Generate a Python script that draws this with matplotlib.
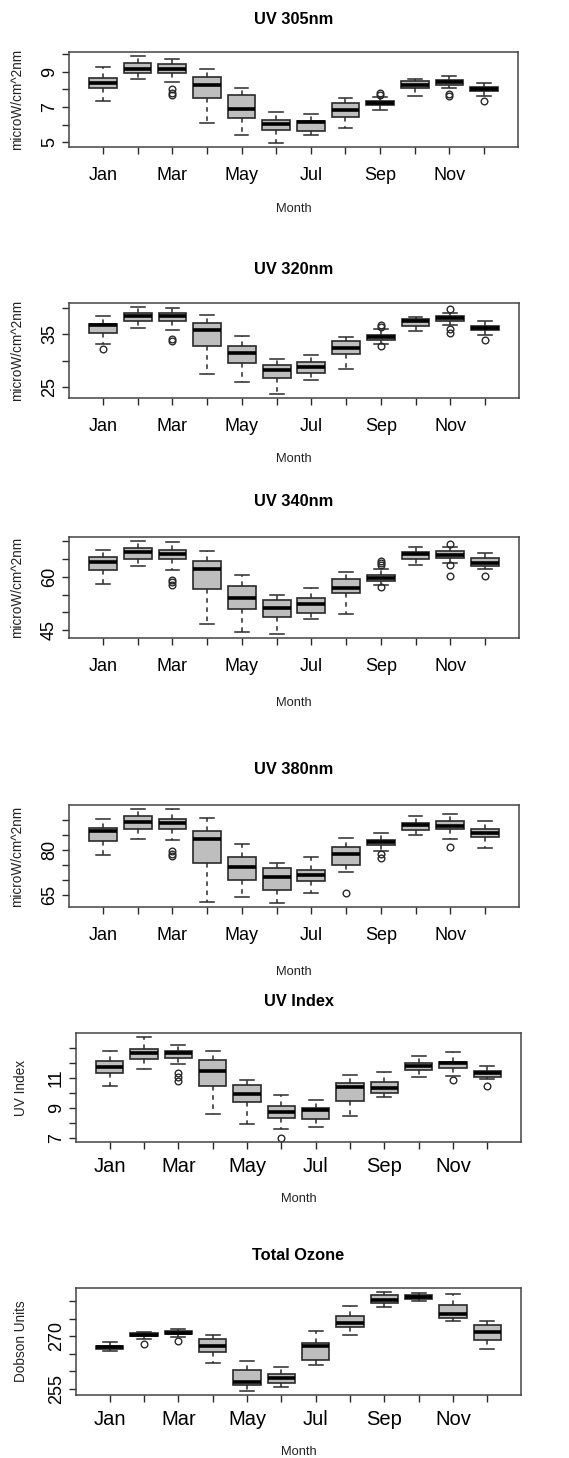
"""
plot.py
Monthly UV irradiance / UV index / total ozone box plots, six stacked panels
in the style of base-R boxplot(). Saves out.png.
"""
import matplotlib
matplotlib.use("Agg")
import matplotlib.pyplot as plt
import numpy as np

plt.rcParams["font.family"] = ["Liberation Sans", "DejaVu Sans"]

MONTHS       = ["Jan", "Feb", "Mar", "Apr", "May", "Jun",
                "Jul", "Aug", "Sep", "Oct", "Nov", "Dec"]
MONTH_LABELS = ["Jan", "", "Mar", "", "May", "", "Jul", "", "Sep", "", "Nov", ""]

# ---- UV 305nm (microW/cm^2nm)
UV305_LO  = [7.36, 8.57, 8.42, 6.09, 5.42, 4.94, 5.42, 5.79, 6.85, 7.64, 8.08, 7.64]
UV305_Q1  = [8.09, 8.94, 8.92, 7.49, 6.36, 5.70, 5.64, 6.45, 7.11, 8.06, 8.25, 7.89]
UV305_MED = [8.34, 9.17, 9.17, 8.23, 6.89, 6.06, 6.13, 6.81, 7.23, 8.26, 8.40, 8.00]
UV305_Q3  = [8.62, 9.47, 9.42, 8.72, 7.66, 6.26, 6.23, 7.25, 7.34, 8.45, 8.51, 8.11]
UV305_HI  = [9.25, 9.92, 9.75, 9.13, 8.09, 6.75, 6.60, 7.51, 7.55, 8.60, 8.74, 8.36]
UV305_OUT = [[], [], [8.00, 7.81, 7.68], [], [], [], [], [], [7.81, 7.70], [],
             [7.75, 7.62], [7.36]]

# ---- UV 320nm
UV320_LO  = [33.16, 36.20, 35.82, 27.41, 25.89, 23.61, 26.27, 28.48, 33.04, 35.63, 36.77, 34.81]
UV320_Q1  = [35.19, 37.53, 37.53, 32.66, 29.62, 26.77, 27.72, 31.27, 33.92, 36.58, 37.41, 35.70]
UV320_MED = [36.65, 38.35, 38.42, 35.76, 31.52, 28.23, 28.80, 32.34, 34.43, 37.53, 38.04, 36.20]
UV320_Q3  = [36.90, 39.05, 38.92, 37.03, 32.66, 29.11, 29.81, 33.67, 34.81, 37.85, 38.35, 36.58]
UV320_HI  = [38.48, 40.19, 40.00, 38.61, 34.62, 30.32, 31.08, 34.43, 35.95, 38.29, 38.92, 37.53]
UV320_OUT = [[32.15], [], [34.05, 33.67], [], [], [], [], [], [36.71, 36.39, 32.66], [],
             [39.81, 35.95, 35.19], [33.86]]

# ---- UV 340nm
UV340_LO  = [58.14, 62.98, 61.96, 46.86, 44.44, 43.88, 48.07, 49.66, 57.67, 63.45, 63.82, 62.24]
UV340_Q1  = [61.96, 65.13, 65.13, 56.64, 50.96, 48.82, 49.84, 55.43, 58.88, 64.94, 65.31, 63.17]
UV340_MED = [64.29, 67.08, 66.52, 62.33, 54.04, 51.33, 52.45, 57.02, 59.81, 66.34, 66.24, 64.01]
UV340_Q3  = [65.50, 68.20, 67.64, 64.57, 57.39, 53.48, 54.04, 59.53, 60.56, 67.08, 67.18, 65.31]
UV340_HI  = [67.55, 70.16, 69.88, 67.36, 60.56, 54.97, 56.74, 61.40, 62.14, 68.48, 68.29, 66.71]
UV340_OUT = [[], [], [59.16, 58.50, 57.86], [], [], [], [], [],
             [64.38, 63.82, 63.35, 57.11], [], [69.23, 63.35, 60.37], [60.28]]

# ---- UV 380nm
UV380_LO  = [78.21, 83.81, 83.25, 62.87, 64.32, 62.31, 65.67, 72.61, 79.66, 84.93, 83.81, 80.67]
UV380_Q1  = [83.14, 86.94, 86.94, 75.86, 70.15, 66.56, 69.70, 75.18, 81.57, 86.72, 86.94, 84.48]
UV380_MED = [86.50, 89.41, 89.07, 83.58, 74.29, 71.15, 71.83, 78.77, 82.58, 88.51, 88.17, 85.71]
UV380_Q3  = [87.39, 91.31, 90.30, 86.38, 77.76, 74.06, 73.50, 81.01, 83.47, 89.18, 89.63, 87.05]
UV380_HI  = [90.53, 93.77, 93.77, 90.86, 81.90, 75.74, 77.76, 84.14, 85.71, 91.42, 92.09, 89.85]
UV380_OUT = [[], [], [79.55, 78.77, 77.98], [], [], [], [], [65.67], [78.54, 77.31], [],
             [81.01], []]

# ---- UV Index
UVI_LO  = [10.43, 11.59, 11.95, 8.57, 7.93, 7.55, 7.73, 8.45, 9.73, 11.05, 11.11, 10.91]
UVI_Q1  = [11.34, 12.25, 12.30, 10.48, 9.41, 8.34, 8.27, 9.43, 10.02, 11.55, 11.66, 11.07]
UVI_MED = [11.75, 12.64, 12.64, 11.48, 9.93, 8.73, 8.86, 10.36, 10.30, 11.80, 11.98, 11.30]
UVI_Q3  = [12.14, 12.93, 12.82, 12.20, 10.55, 9.09, 8.98, 10.68, 10.75, 11.98, 12.09, 11.43]
UVI_HI  = [12.82, 13.73, 13.20, 12.77, 10.89, 9.82, 9.55, 11.18, 11.36, 12.48, 12.73, 11.80]
UVI_OUT = [[], [], [11.30, 11.05, 10.80], [], [], [6.98], [], [], [], [], [10.84], [10.43]]

# ---- Total Ozone (Dobson Units)
OZ_LO  = [265.73, 269.15, 269.90, 262.40, 254.33, 255.57, 261.74, 270.38, 278.36, 280.07, 274.27, 266.39]
OZ_Q1  = [266.39, 270.00, 270.57, 265.44, 256.04, 256.61, 263.26, 272.66, 279.50, 280.73, 275.22, 268.96]
OZ_MED = [266.87, 270.47, 271.04, 267.34, 257.00, 258.13, 267.25, 273.80, 280.35, 281.21, 276.46, 271.33]
OZ_Q3  = [267.25, 270.95, 271.61, 269.24, 260.31, 259.17, 268.20, 275.89, 281.78, 281.78, 278.93, 273.23]
OZ_HI  = [268.29, 271.33, 272.09, 270.38, 262.97, 261.26, 271.42, 278.64, 282.73, 282.54, 282.06, 274.27]
OZ_OUT = [[], [267.91], [268.67], [], [], [], [], [], [], [], [], []]

TITLES  = ["UV 305nm", "UV 320nm", "UV 340nm", "UV 380nm", "UV Index", "Total Ozone"]
YLABELS = ["microW/cm^2nm"] * 4 + ["UV Index", "Dobson Units"]
YTICKS  = [[5, 6, 7, 8, 9, 10], [25, 30, 35, 40], [45, 50, 55, 60, 65, 70],
           [65, 70, 75, 80, 85, 90], [7, 8, 9, 10, 11, 12, 13], [255, 260, 265, 270, 275, 280]]
YTICKLABELS = [["5", "", "7", "", "9", ""], ["25", "", "35", ""],
               ["45", "", "", "60", "", ""], ["65", "", "", "80", "", ""],
               ["7", "", "9", "", "11", "", ""], ["255", "", "", "270", "", ""]]

SERIES = [
    (UV305_LO, UV305_Q1, UV305_MED, UV305_Q3, UV305_HI, UV305_OUT),
    (UV320_LO, UV320_Q1, UV320_MED, UV320_Q3, UV320_HI, UV320_OUT),
    (UV340_LO, UV340_Q1, UV340_MED, UV340_Q3, UV340_HI, UV340_OUT),
    (UV380_LO, UV380_Q1, UV380_MED, UV380_Q3, UV380_HI, UV380_OUT),
    (UVI_LO, UVI_Q1, UVI_MED, UVI_Q3, UVI_HI, UVI_OUT),
    (OZ_LO, OZ_Q1, OZ_MED, OZ_Q3, OZ_HI, OZ_OUT),
]

# panel placement in pixels: left, top, right, bottom, title y, "Month" y, ylabel x
W, H = 569, 1458
LAYOUT = [
    (69, 52, 518, 147, 19, 209, 17),
    (69, 303, 519, 398, 270, 459, 17),
    (69, 537, 519, 638, 502, 703, 17),
    (69, 805, 519, 907, 769, 972, 17),
    (76, 1033, 521, 1142, 1002, 1199, 21),
    (76, 1288, 521, 1395, 1256, 1452, 21),
]
XTICK_SIZE = [13, 13, 13, 13, 14.5, 14.5]
XTICK_PAD  = [9.5, 9.5, 9.5, 9.5, 6, 6]
EDGE = "#2a2a2a"


# -----------------------------------------------------------------------
def draw_panel(ax, series, yticks, yticklabels, xtick_size, xtick_pad):
    lo, q1, med, q3, hi, out = series
    stats = [dict(whislo=lo[i], q1=q1[i], med=med[i], q3=q3[i],
                  whishi=hi[i], fliers=out[i]) for i in range(len(MONTHS))]
    positions = np.arange(1, len(MONTHS) + 1)
    ax.bxp(stats, positions=positions, widths=0.8, capwidths=0.4,
           patch_artist=True, manage_ticks=False,
           boxprops=dict(facecolor="#bebebe", edgecolor=EDGE, linewidth=1.2),
           medianprops=dict(color="black", linewidth=2.6, solid_capstyle="butt"),
           whiskerprops=dict(color=EDGE, linewidth=1.1, linestyle=(0, (3, 3))),
           capprops=dict(color=EDGE, linewidth=1.1),
           flierprops=dict(marker="o", markerfacecolor="none",
                           markeredgecolor=EDGE, markersize=4.8,
                           markeredgewidth=1.0))

    # R-style limits: data range plus 4 %
    allv = np.concatenate([lo, hi] + [np.asarray(o) for o in out if o])
    pad = 0.04 * (allv.max() - allv.min())
    ax.set_ylim(allv.min() - pad, allv.max() + pad)
    ax.set_xlim(0.5 - 0.48, len(MONTHS) + 0.5 + 0.48)

    ax.set_xticks(positions, labels=MONTH_LABELS)
    ax.set_yticks(yticks, labels=yticklabels)
    ax.tick_params(axis="x", length=5, width=1, color=EDGE, pad=xtick_pad,
                   labelsize=xtick_size)
    ax.tick_params(axis="y", length=5, width=1, color=EDGE, pad=3,
                   labelsize=13, labelrotation=90)
    for lab in ax.get_yticklabels():
        lab.set_verticalalignment("center")
    for sp in ax.spines.values():
        sp.set_color("#444444")
        sp.set_linewidth(1.1)


# -----------------------------------------------------------------------
def main():
    fig = plt.figure(figsize=(W / 100, H / 100), dpi=100)
    for k, (l, t, r, b, ty, my, yx) in enumerate(LAYOUT):
        ax = fig.add_axes([l / W, 1 - b / H, (r - l) / W, (b - t) / H])
        draw_panel(ax, SERIES[k], YTICKS[k], YTICKLABELS[k],
                   XTICK_SIZE[k], XTICK_PAD[k])
        cx = (l + r) / 2 / W
        fig.text(cx, 1 - ty / H, TITLES[k], ha="center", va="center",
                 fontsize=11.8, fontweight="bold")
        fig.text(cx, 1 - my / H, "Month", ha="center", va="center",
                 fontsize=9.3, color="#222222")
        fig.text(yx / W, 1 - (t + b) / 2 / H, YLABELS[k], ha="center",
                 va="center", rotation=90, fontsize=9.8, color="#222222")
    fig.savefig("out.png", dpi=100)


if __name__ == "__main__":
    main()
